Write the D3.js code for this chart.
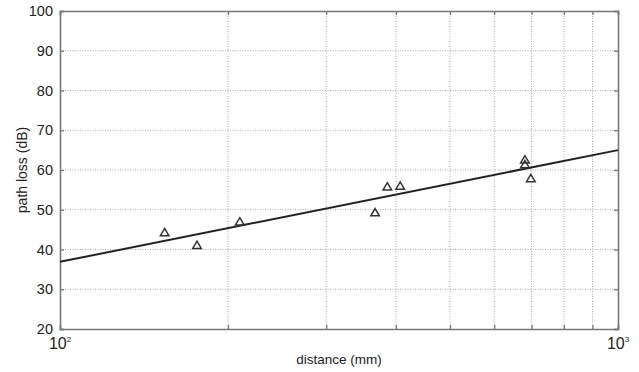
<!DOCTYPE html>
<html>
<head>
<meta charset="utf-8">
<script src="https://cdn.jsdelivr.net/npm/d3@7"></script>
<style>
  body { margin: 0; background: #fff; }
  text { font-family: "Liberation Sans", Arial, sans-serif; fill: #222; }
</style>
</head>
<body>
<div id="chart"></div>
<script>
// measured points (distance in mm, path loss in dB)
var distances = [154, 176, 210, 367, 386, 407, 681, 681, 698];
var pathLoss  = [44.3, 41.1, 47.0, 49.3, 55.8, 56.0, 62.6, 61.4, 57.9];

// fitted line end points
var fitDist = [100, 1000];
var fitLoss = [36.9, 65.0];

var yTicks = [20, 30, 40, 50, 60, 70, 80, 90, 100];
var xMinor = [200, 300, 400, 500, 600, 700, 800, 900];

var svgW = 639, svgH = 372;
// plot box (note: "top" is a window global, so use other names)
var plotL = 60, plotR = 618, plotT = 11, plotB = 329;

var svg = d3.select("#chart")
    .append("svg")
    .attr("width", svgW)
    .attr("height", svgH);

var x = d3.scaleLog().domain([100, 1000]).range([plotL, plotR]);
var y = d3.scaleLinear().domain([20, 100]).range([plotB, plotT]);

// grid
svg.append("g")
    .selectAll("line")
    .data(xMinor).enter().append("line")
    .attr("x1", d => x(d)).attr("x2", d => x(d))
    .attr("y1", plotT).attr("y2", plotB)
    .attr("stroke", "#aaa")
    .attr("stroke-width", 1)
    .attr("stroke-dasharray", "1,1.5");

svg.append("g")
    .selectAll("line")
    .data(yTicks.slice(1, -1)).enter().append("line")
    .attr("x1", plotL).attr("x2", plotR)
    .attr("y1", d => y(d)).attr("y2", d => y(d))
    .attr("stroke", "#aaa")
    .attr("stroke-width", 1)
    .attr("stroke-dasharray", "1,1.5");

// axes with inward ticks, MATLAB style
var xTickVals = [100].concat(xMinor).concat([1000]);
var yAxis = d3.axisLeft(y).tickValues(yTicks).tickSize(-4).tickPadding(7);
var yAxisR = d3.axisRight(y).tickValues(yTicks).tickSize(-4).tickFormat("");
var xAxis = d3.axisBottom(x).tickValues(xTickVals).tickSize(-4).tickFormat("");
var xAxisT = d3.axisTop(x).tickValues(xTickVals).tickSize(-4).tickFormat("");

function styleAxis(g) {
    g.selectAll("path, line").attr("stroke", "#777").attr("stroke-width", 1.3);
    g.select(".domain").attr("stroke-width", 1.6);
    g.selectAll("text").attr("fill", "#222").style("font-size", "14.5px")
        .style("font-family", "Liberation Sans, Arial, sans-serif");
}

svg.append("g").attr("transform", `translate(${plotL},0)`).call(yAxis).call(styleAxis);
svg.append("g").attr("transform", `translate(${plotR},0)`).call(yAxisR).call(styleAxis);
svg.append("g").attr("transform", `translate(0,${plotB})`).call(xAxis).call(styleAxis);
svg.append("g").attr("transform", `translate(0,${plotT})`).call(xAxisT).call(styleAxis);

// x decade labels 10^2 and 10^3
var decades = [[100, "2"], [1000, "3"]];
decades.forEach(function(dd) {
    var t = svg.append("text")
        .attr("x", x(dd[0]))
        .attr("y", plotB + 20)
        .attr("text-anchor", "middle")
        .style("font-size", "16px");
    t.append("tspan").text("10");
    t.append("tspan").attr("dy", -7).style("font-size", "8px").text(dd[1]);
});

// fitted line
var fit = fitDist.map((d, i) => [d, fitLoss[i]]);
svg.append("path")
    .datum(fit)
    .attr("fill", "none")
    .attr("stroke", "#222")
    .attr("stroke-width", 2)
    .attr("d", d3.line().x(d => x(d[0])).y(d => y(d[1])));

// triangle markers
var pts = distances.map((d, i) => [d, pathLoss[i]]);
svg.append("g")
    .selectAll("path")
    .data(pts).enter().append("path")
    .attr("transform", d => `translate(${x(d[0])},${y(d[1])})`)
    .attr("d", "M0,-4L4.3,3.3L-4.3,3.3Z")
    .attr("fill", "none")
    .attr("stroke", "#333")
    .attr("stroke-width", 1.5);

// axis titles
svg.append("text")
    .attr("x", (plotL + plotR) / 2)
    .attr("y", 364)
    .attr("text-anchor", "middle")
    .style("font-size", "13.5px")
    .text("distance (mm)");

svg.append("text")
    .attr("transform", `translate(27,${(plotT + plotB) / 2}) rotate(-90)`)
    .attr("text-anchor", "middle")
    .style("font-size", "14px")
    .text("path loss (dB)");
</script>
</body>
</html>
